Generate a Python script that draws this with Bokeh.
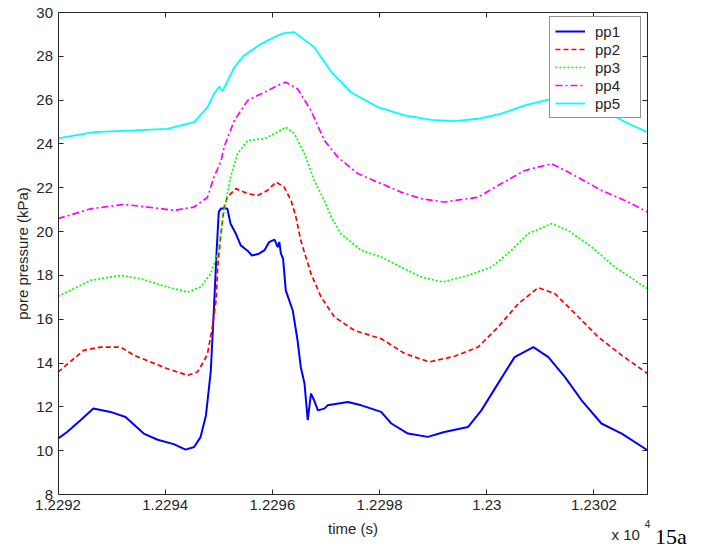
from bokeh.plotting import figure
from bokeh.models import FixedTicker, LinearAxis, Range1d, Legend, LegendItem, Label
from bokeh.embed import file_html
from bokeh.resources import INLINE

# ---- data (time in s, pore pressure in kPa) ----
t1 = [12292.0, 12292.17, 12292.42, 12292.66, 12292.98, 12293.26, 12293.6, 12293.86, 12294.16,
      12294.38, 12294.54, 12294.66, 12294.76, 12294.85, 12294.91, 12294.96, 12295.0, 12295.04,
      12295.16, 12295.22, 12295.32, 12295.41, 12295.53, 12295.62, 12295.75, 12295.85, 12295.94,
      12296.04, 12296.1, 12296.13, 12296.16, 12296.2, 12296.25, 12296.38, 12296.47, 12296.53,
      12296.6, 12296.66, 12296.72, 12296.78, 12296.85, 12296.97, 12297.03, 12297.41, 12297.66,
      12298.03, 12298.22, 12298.53, 12298.9, 12299.21, 12299.65, 12299.9, 12300.21, 12300.52,
      12300.87, 12301.15, 12301.46, 12301.77, 12302.14, 12302.52, 12303.0]
pp1 = [10.55, 10.85, 11.39, 11.93, 11.77, 11.54, 10.78, 10.5, 10.3,
       10.05, 10.17, 10.62, 11.6, 13.6, 16.5, 19.1, 20.9, 21.05,
       21.05, 20.36, 19.9, 19.37, 19.14, 18.91, 18.99, 19.14, 19.52,
       19.63, 19.29, 19.52, 18.99, 18.76, 17.32, 16.4, 15.04, 13.82,
       13.06, 11.39, 12.6, 12.3, 11.84, 11.92, 12.07, 12.22, 12.07,
       11.77, 11.24, 10.78, 10.63, 10.85, 11.08, 11.84, 13.06, 14.27,
       14.73, 14.27, 13.36, 12.3, 11.24, 10.78, 10.02]

t2 = [12292.0, 12292.48, 12292.79, 12293.17, 12293.42, 12293.73, 12294.04, 12294.42, 12294.6,
      12294.73, 12294.79, 12294.88, 12294.95, 12294.98, 12295.04, 12295.1, 12295.16, 12295.32,
      12295.54, 12295.72, 12295.91, 12296.07, 12296.22, 12296.35, 12296.44, 12296.53, 12296.72,
      12296.91, 12297.16, 12297.53, 12298.03, 12298.47, 12298.93, 12299.4, 12299.84, 12300.21,
      12300.59, 12300.96, 12301.27, 12301.65, 12302.08, 12302.52, 12303.0]
pp2 = [13.59, 14.58, 14.73, 14.73, 14.35, 14.05, 13.74, 13.44, 13.59,
       14.12, 14.43, 15.64, 16.86, 18.38, 19.9, 21.12, 21.57, 21.96,
       21.73, 21.65, 21.88, 22.26, 22.03, 21.42, 20.66, 19.6, 18.08,
       17.01, 16.1, 15.49, 15.11, 14.43, 14.05, 14.31, 14.73, 15.64,
       16.71, 17.44, 17.17, 16.25, 15.19, 14.35, 13.52]

t3 = [12292.0, 12292.61, 12293.17, 12293.54, 12294.04, 12294.42, 12294.66, 12294.85, 12294.98,
      12295.1, 12295.22, 12295.35, 12295.54, 12295.85, 12296.04, 12296.25, 12296.41, 12296.6,
      12296.78, 12296.97, 12297.1, 12297.28, 12297.66, 12298.03, 12298.4, 12298.78, 12299.18,
      12299.65, 12300.09, 12300.46, 12300.77, 12301.21, 12301.52, 12301.96, 12302.39, 12303.0]
pp3 = [17.04, 17.77, 18.0, 17.85, 17.47, 17.24, 17.47, 18.08, 18.99,
       20.97, 22.49, 23.55, 24.16, 24.24, 24.47, 24.77, 24.47, 23.55,
       22.34, 21.42, 20.66, 19.9, 19.14, 18.84, 18.38, 17.92, 17.7,
       18.0, 18.38, 19.14, 19.9, 20.36, 20.05, 19.29, 18.38, 17.39]

t4 = [12292.0, 12292.61, 12293.23, 12293.67, 12294.17, 12294.54, 12294.79, 12294.91, 12295.04,
      12295.1, 12295.29, 12295.54, 12295.85, 12296.1, 12296.25, 12296.47, 12296.72, 12296.97,
      12297.22, 12297.6, 12298.03, 12298.4, 12298.78, 12299.21, 12299.84, 12300.27, 12300.71,
      12301.21, 12301.64, 12302.14, 12302.64, 12303.0]
pp4 = [20.59, 21.04, 21.24, 21.12, 20.97, 21.12, 21.57, 22.49, 23.2,
       23.86, 25.07, 25.99, 26.36, 26.67, 26.82, 26.52, 25.53, 24.16,
       23.4, 22.64, 22.19, 21.8, 21.5, 21.35, 21.57, 22.19, 22.79,
       23.1, 22.56, 21.88, 21.35, 20.89]

t5 = [12292.0, 12292.67, 12293.42, 12294.04, 12294.54, 12294.79, 12294.91, 12295.01, 12295.07,
      12295.29, 12295.47, 12295.79, 12296.1, 12296.2, 12296.41, 12296.78, 12297.1, 12297.47,
      12297.97, 12298.47, 12298.97, 12299.4, 12299.84, 12300.27, 12300.71, 12301.15, 12301.5,
      12301.85, 12302.2, 12302.58, 12303.0]
pp5 = [24.25, 24.54, 24.62, 24.69, 25.0, 25.68, 26.29, 26.62, 26.41,
       27.5, 28.04, 28.57, 28.95, 29.05, 29.1, 28.42, 27.28, 26.35,
       25.68, 25.3, 25.1, 25.04, 25.15, 25.38, 25.76, 26.02, 26.1,
       25.9, 25.53, 25.0, 24.54]

series_names = ["pp1", "pp2", "pp3", "pp4", "pp5"]
x_ticks = [12292, 12294, 12296, 12298, 12300, 12302]
x_tick_labels = ["1.2292", "1.2294", "1.2296", "1.2298", "1.23", "1.2302"]
y_ticks = [8, 10, 12, 14, 16, 18, 20, 22, 24, 26, 28, 30]
X0, X1 = 12292, 12303     # axes limits (box)
Y0, Y1 = 8, 30

FONT = "Liberation Sans"
TXT = "#262626"

# The plotting frame covers the whole canvas so that no text beside the axes
# box is clipped; the box itself is drawn by axes fixed at its edges and
# bounded to [X0, X1] x [Y0, Y1].
W, H = 706, 552
BOX_L, BOX_T, BOX_W, BOX_H = 57.5, 12, 589.5, 482
sx = (X1 - X0) / BOX_W
sy = (Y1 - Y0) / BOX_H
x_start = X0 - BOX_L * sx
x_end = X0 + (W - BOX_L) * sx
y_end = Y1 + BOX_T * sy
y_start = Y1 - (H - BOX_T) * sy

p = figure(width=W, height=H, x_range=Range1d(x_start, x_end), y_range=Range1d(y_start, y_end),
           output_backend="svg", toolbar_location=None, min_border=0,
           min_border_left=0, min_border_right=0, min_border_top=0, min_border_bottom=0)
p.xgrid.visible = False
p.ygrid.visible = False
p.outline_line_color = None
p.background_fill_color = "white"
p.border_fill_color = "white"

def style_axis(ax, labels=True):
    ax.major_tick_in = 5
    ax.major_tick_out = 0
    ax.minor_tick_line_color = None
    ax.axis_line_color = TXT
    ax.major_tick_line_color = TXT
    ax.major_label_text_font = FONT
    ax.major_label_text_color = TXT
    if labels:
        ax.major_label_text_font_size = "15px"
    else:
        ax.major_label_text_font_size = "0px"
        ax.major_label_text_color = None
        ax.major_label_standoff = 0

xa = p.xaxis[0]
ya = p.yaxis[0]
xa.ticker = FixedTicker(ticks=x_ticks)
xa.major_label_overrides = {t: l for t, l in zip(x_ticks, x_tick_labels)}
xa.fixed_location = Y0
xa.bounds = (X0, X1)
ya.ticker = FixedTicker(ticks=y_ticks)
ya.fixed_location = X0
ya.bounds = (Y0, Y1)
style_axis(xa)
style_axis(ya)
xa.major_label_standoff = 5
ya.major_label_standoff = 5
xa.axis_label = "time (s)"
ya.axis_label = "pore pressure (kPa)"
for ax in (xa, ya):
    ax.axis_label_text_font = FONT
    ax.axis_label_text_font_size = "15px"
    ax.axis_label_text_font_style = "normal"
    ax.axis_label_text_color = TXT
xa.axis_label_standoff = 7
ya.axis_label_standoff = 3

top = LinearAxis(ticker=FixedTicker(ticks=x_ticks), bounds=(X0, X1), fixed_location=Y1)
right = LinearAxis(ticker=FixedTicker(ticks=y_ticks), bounds=(Y0, Y1), fixed_location=X1)
style_axis(top, labels=False)
style_axis(right, labels=False)
p.add_layout(top, "above")
p.add_layout(right, "right")

r1 = p.line(t1, pp1, line_color="#0000ff", line_width=2)
r2 = p.line(t2, pp2, line_color="#ff0000", line_width=1.7, line_dash="5 3")
r3 = p.line(t3, pp3, line_color="#00ff00", line_width=1.7, line_dash="2 2")
r4 = p.line(t4, pp4, line_color="#ff00ff", line_width=1.7, line_dash="7 3 2 3")
r5 = p.line(t5, pp5, line_color="#00ffff", line_width=1.8)

legend = Legend(items=[LegendItem(label=n, renderers=[r]) for n, r in
                       zip(series_names, [r1, r2, r3, r4, r5])],
                location=(549, 434), padding=5, spacing=0,
                label_height=18, glyph_height=18, glyph_width=30,
                label_standoff=10, label_width=40,
                label_text_font=FONT, label_text_font_size="15px", label_text_color=TXT,
                border_line_color=TXT, border_line_width=1,
                background_fill_color="white", background_fill_alpha=1.0)
p.add_layout(legend, "center")

p.add_layout(Label(x=12302.33, y=6.17, text="x 10", text_font=FONT, text_font_size="15px",
                   text_color=TXT, text_baseline="middle", text_align="left"))
p.add_layout(Label(x=12302.95, y=6.65, text="4", text_font=FONT, text_font_size="10px",
                   text_color=TXT, text_baseline="middle", text_align="left"))
p.add_layout(Label(x=12303.14, y=6.1, text="15a", text_font="Liberation Serif", text_font_size="22px",
                   text_color="#000000", text_baseline="middle", text_align="left"))

open("out.html", "w").write(file_html(p, INLINE))
